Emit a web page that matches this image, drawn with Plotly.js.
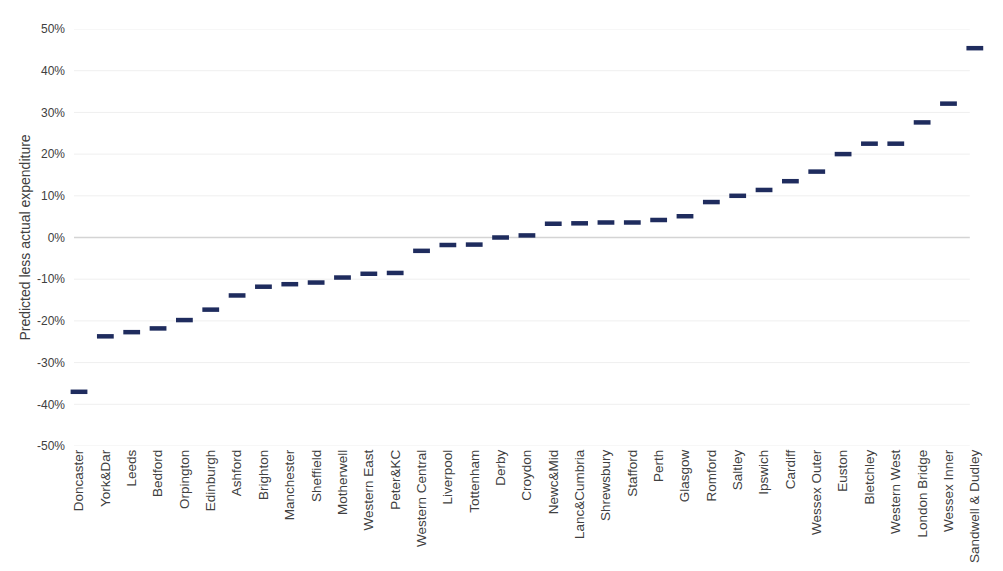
<!DOCTYPE html>
<html>
<head>
<meta charset="utf-8">
<script src="https://cdn.plot.ly/plotly-3.0.1.min.js"></script>
<style>
  html, body { margin: 0; padding: 0; background: #fff; }
  #chart { width: 1003px; height: 571px; }
</style>
</head>
<body>
<div id="chart"></div>
<script>
const regions = [
  'Doncaster', 'York&Dar', 'Leeds', 'Bedford', 'Orpington', 'Edinburgh', 'Ashford',
  'Brighton', 'Manchester', 'Sheffield', 'Motherwell', 'Western East', 'Peter&KC',
  'Western Central', 'Liverpool', 'Tottenham', 'Derby', 'Croydon', 'Newc&Mid',
  'Lanc&Cumbria', 'Shrewsbury', 'Stafford', 'Perth', 'Glasgow', 'Romford', 'Saltley',
  'Ipswich', 'Cardiff', 'Wessex Outer', 'Euston', 'Bletchley', 'Western West',
  'London Bridge', 'Wessex Inner', 'Sandwell & Dudley'
]

// predicted less actual expenditure, as a fraction
const difference = [
  -0.370, -0.237, -0.227, -0.218, -0.198, -0.173, -0.139,
  -0.118, -0.112, -0.108, -0.096, -0.087, -0.085,
  -0.032, -0.018, -0.017, 0.000, 0.005, 0.033,
  0.034, 0.036, 0.036, 0.042, 0.051, 0.085, 0.100,
  0.114, 0.135, 0.158, 0.200, 0.225, 0.225,
  0.276, 0.321, 0.454
]

const yTicks = [-0.5, -0.4, -0.3, -0.2, -0.1, 0, 0.1, 0.2, 0.3, 0.4, 0.5]

const idx = regions.map((r, i) => i)

const trace = {
  x: idx,
  y: difference,
  type: 'scatter',
  mode: 'markers',
  marker: {
    symbol: 'line-ew',
    size: 12,
    color: '#1f2c5e',
    line: { color: '#1f2c5e', width: 4.5 }
  },
  cliponaxis: false,
  hoverinfo: 'skip'
}

// gridlines stop a little short of the last category, as in the original
const grid = yTicks.map(v => ({
  type: 'line',
  xref: 'x',
  yref: 'y',
  x0: -0.19,
  x1: 33.81,
  y0: v,
  y1: v,
  layer: 'below',
  line: { color: v === 0 ? '#d4d4d4' : '#efefef', width: v === 0 ? 1.5 : 1 }
}))

const layout = {
  width: 1003,
  height: 571,
  margin: { l: 74, r: 15, t: 29, b: 125 },
  paper_bgcolor: '#fff',
  plot_bgcolor: '#fff',
  showlegend: false,
  font: { family: 'Liberation Sans, Arial, sans-serif', size: 12, color: '#404040' },
  shapes: grid,
  xaxis: {
    range: [-0.19, 34.5],
    tickvals: idx,
    ticktext: regions,
    tickangle: -90,
    showgrid: false,
    zeroline: false,
    showline: false,
    ticks: '',
    tickfont: { size: 13.5, color: '#404040' }
  },
  yaxis: {
    range: [-0.5, 0.5],
    tickvals: yTicks,
    ticktext: yTicks.map(v => Math.round(v * 100) + '%'),
    showgrid: false,
    zeroline: false,
    showline: false,
    ticks: '',
    ticklabelstandoff: 8,
    tickfont: { size: 12, color: '#404040' },
    title: { text: 'Predicted less actual expenditure', font: { size: 14, color: '#404040' }, standoff: 3 }
  }
}

Plotly.newPlot('chart', [trace], layout, { displayModeBar: false, staticPlot: true })
</script>
</body>
</html>
